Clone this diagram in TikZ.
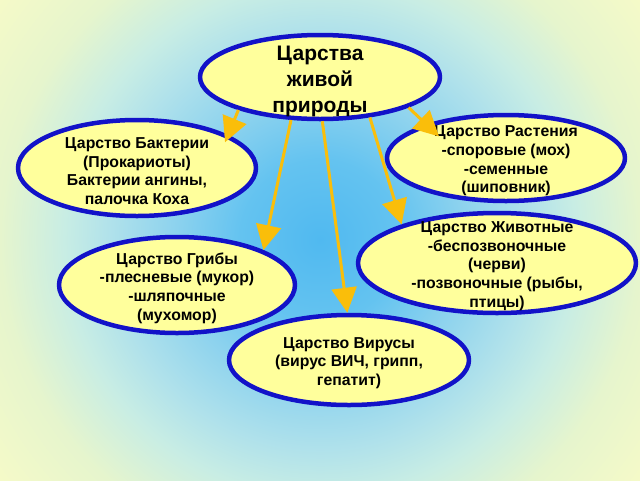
\documentclass[tikz,border=0pt]{standalone}
\usepackage{fontspec}
\setmainfont{Liberation Sans}
\usetikzlibrary{shapes.geometric,arrows.meta}

\definecolor{rimblue}{RGB}{18,18,200}
\definecolor{cellfill}{RGB}{255,255,156}
\definecolor{arrowgold}{RGB}{250,190,10}
\definecolor{skyA}{RGB}{80,185,240}
\definecolor{skyB}{RGB}{100,195,240}
\definecolor{skyC}{RGB}{140,210,238}
\definecolor{skyD}{RGB}{175,225,235}
\definecolor{skyE}{RGB}{200,237,228}
\definecolor{skyF}{RGB}{230,245,205}
\definecolor{skyG}{RGB}{245,250,200}
\pgfdeclareradialshading{bgglow}{\pgfpoint{0bp}{0bp}}{color(0bp)=(skyA); color(5bp)=(skyB); color(9bp)=(skyC); color(13bp)=(skyD); color(16bp)=(skyE); color(20bp)=(skyF); color(25bp)=(skyG); color(50bp)=(skyG)}

\begin{document}
\begin{tikzpicture}[x=1pt, y=-1pt, line join=round,
	kingdom/.style={ellipse, draw=rimblue, line width=4.5pt, fill=cellfill, inner sep=0pt},
	txt/.style={align=center, yshift=-3pt, font=\fontsize{15.8}{18.6}\selectfont\bfseries},
	bigtxt/.style={align=center, yshift=-4pt, font=\fontsize{21}{26}\selectfont\bfseries},
	link/.style={color=arrowgold, line width=3pt, -{Triangle[length=25pt,width=25pt]}}]
	\useasboundingbox (0,0) rectangle (640,480);
	% background
	\begin{scope}
	\clip (0,0) rectangle (640,480);
	\shade[shading=bgglow] (-80,-160) rectangle (720,640);
	\end{scope}
	% kingdoms
	\node[kingdom, minimum width=240pt, minimum height=84pt,
		label={[bigtxt]center:{Царства\\живой\\природы}}] (root) at (320,77) {};
	\node[kingdom, minimum width=238pt, minimum height=96pt,
		label={[txt]center:{Царство Бактерии\\(Прокариоты)\\Бактерии ангины,\\палочка Коха}}] (bact) at (137,168) {};
	\node[kingdom, minimum width=238pt, minimum height=86pt,
		label={[txt]center:{Царство Растения\\-споровые (мох)\\-семенные\\(шиповник)}}] (plant) at (506,158) {};
	\node[kingdom, minimum width=236pt, minimum height=96pt,
		label={[txt]center:{Царство Грибы\\-плесневые (мукор)\\-шляпочные\\(мухомор)}}] (fungi) at (177,285) {};
	\node[kingdom, minimum width=278pt, minimum height=100pt,
		label={[txt]center:{Царство Животные\\-беспозвоночные\\(черви)\\-позвоночные (рыбы,\\птицы)}}] (animal) at (497,263) {};
	\node[kingdom, minimum width=240pt, minimum height=90pt,
		label={[txt]center:{Царство Вирусы\\(вирус ВИЧ, грипп,\\гепатит)}}] (virus) at (349,360) {};
	% arrows
	\draw[link, shorten >=-8pt] (root.-158) -- (bact.20);
	\draw[link] (root.-124) -- (fungi.22);
	\draw[link] (root.-87) -- (virus.92);
	\draw[link] (root.-39) -- (animal.158);
	\draw[link, shorten >=-18pt] (root.-19) -- (plant.157);
\end{tikzpicture}
\end{document}
